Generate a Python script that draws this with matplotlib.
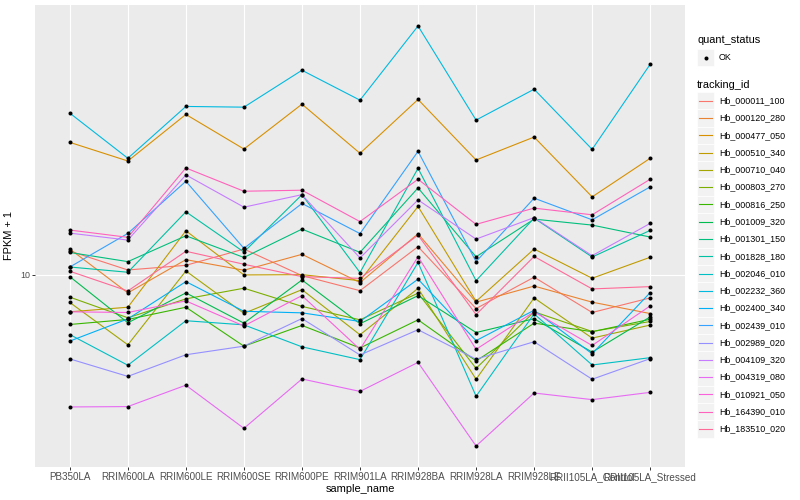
import matplotlib
matplotlib.use("Agg")
import matplotlib.pyplot as plt
import numpy as np
from matplotlib.patches import Rectangle
from matplotlib.ticker import NullLocator

plt.rcParams["font.family"] = ["Liberation Sans", "DejaVu Sans"]

samples = ["PB350LA", "RRIM600LA", "RRIM600LE", "RRIM600SE", "RRIM600PE", "RRIM901LA",
           "RRIM928BA", "RRIM928LA", "RRIM928LE", "RRII105LA_Control", "RRII105LA_Stressed"]

tracking_ids = ["Hb_000011_100", "Hb_000120_280", "Hb_000477_050", "Hb_000510_340",
                "Hb_000710_040", "Hb_000803_270", "Hb_000816_250", "Hb_001009_320",
                "Hb_001301_150", "Hb_001828_180", "Hb_002046_010", "Hb_002232_360",
                "Hb_002400_340", "Hb_002439_010", "Hb_002989_020", "Hb_004109_320",
                "Hb_004319_080", "Hb_010921_050", "Hb_164390_010", "Hb_183510_020"]

# FPKM + 1, one value per sample
hb_000011_100 = [12.02, 10.39, 10.77, 12.21, 9.95, 8.86, 12.43, 7.72, 9.83, 7.49, 8.38]
hb_000120_280 = [12.21, 8.71, 11.25, 10.37, 11.72, 9.43, 13.73, 8.11, 9.18, 8.11, 7.43]
hb_000477_050 = [27.75, 24.04, 34.41, 26.36, 37.24, 25.51, 38.61, 24.23, 28.91, 18.24, 24.55]
hb_000510_340 = [7.53, 7.80, 14.05, 10.0, 10.02, 9.57, 16.94, 8.16, 12.21, 9.75, 11.46]
hb_000710_040 = [8.09, 5.84, 10.31, 7.44, 8.93, 6.31, 9.02, 4.48, 8.38, 6.15, 6.80]
hb_000803_270 = [8.43, 7.19, 8.32, 9.03, 7.85, 7.08, 8.69, 4.87, 7.53, 6.47, 6.99]
hb_000816_250 = [6.83, 7.10, 7.80, 5.78, 6.78, 5.70, 7.08, 5.16, 6.90, 6.46, 7.11]
hb_001009_320 = [9.87, 6.92, 8.71, 6.90, 9.62, 6.87, 8.53, 6.42, 7.14, 5.52, 7.24]
hb_001301_150 = [11.89, 11.08, 13.52, 11.44, 14.23, 11.90, 19.54, 11.50, 15.37, 14.68, 13.39]
hb_001828_180 = [10.63, 10.21, 16.26, 11.93, 18.55, 10.19, 22.73, 9.57, 15.49, 11.48, 14.09]
hb_002046_010 = [6.32, 4.99, 7.03, 6.81, 5.75, 5.21, 11.01, 3.93, 7.41, 5.00, 5.29]
hb_002232_360 = [34.75, 24.55, 36.59, 36.39, 48.34, 38.40, 67.97, 32.94, 41.78, 26.30, 50.62]
hb_002400_340 = [6.01, 7.13, 9.50, 7.56, 7.47, 6.99, 9.68, 6.03, 7.62, 5.45, 8.73]
hb_002439_010 = [10.63, 13.77, 20.57, 12.27, 17.34, 13.75, 25.90, 11.08, 18.06, 15.29, 19.70]
hb_002989_020 = [5.24, 4.58, 5.41, 5.78, 7.15, 5.40, 6.56, 5.23, 5.98, 4.48, 5.25]
hb_004109_320 = [13.80, 13.08, 21.60, 16.85, 18.55, 11.40, 17.82, 13.18, 15.55, 11.60, 14.87]
hb_004319_080 = [3.62, 3.63, 4.28, 3.07, 4.49, 4.08, 5.10, 2.68, 4.03, 3.83, 4.05]
hb_010921_050 = [7.53, 7.49, 8.19, 6.75, 8.53, 5.64, 11.51, 5.64, 7.53, 5.81, 7.88]
hb_164390_010 = [14.13, 13.36, 22.79, 19.05, 19.20, 15.08, 20.89, 14.76, 16.73, 15.89, 20.89]
hb_183510_020 = [10.29, 8.84, 12.00, 10.86, 9.87, 9.74, 13.59, 7.37, 11.53, 8.98, 9.14]

series = [hb_000011_100, hb_000120_280, hb_000477_050, hb_000510_340, hb_000710_040,
          hb_000803_270, hb_000816_250, hb_001009_320, hb_001301_150, hb_001828_180,
          hb_002046_010, hb_002232_360, hb_002400_340, hb_002439_010, hb_002989_020,
          hb_004109_320, hb_004319_080, hb_010921_050, hb_164390_010, hb_183510_020]


def hue_pal(n, l=65.0, c=100.0):
    # ggplot2 default discrete palette (HCL -> sRGB)
    un, vn = 0.1978398, 0.4683363
    cols = []
    for h in np.linspace(15, 375, n + 1)[:-1]:
        hr = np.deg2rad(h)
        u, v = c * np.cos(hr), c * np.sin(hr)
        y = ((l + 16) / 116) ** 3
        up = u / (13 * l) + un
        vp = v / (13 * l) + vn
        x = y * 9 * up / (4 * vp)
        z = y * (12 - 3 * up - 20 * vp) / (4 * vp)
        rgb = np.array([
            3.240479 * x - 1.537150 * y - 0.498535 * z,
            -0.969256 * x + 1.875992 * y + 0.041556 * z,
            0.055648 * x - 0.204043 * y + 1.057311 * z,
        ])
        rgb = np.where(rgb <= 0.0031308, 12.92 * rgb, 1.055 * np.abs(rgb) ** (1 / 2.4) - 0.055)
        cols.append(tuple(np.clip(rgb, 0, 1)))
    return cols


colors = hue_pal(len(tracking_ids))
W, H = 800, 500
fig = plt.figure(figsize=(W / 100, H / 100), dpi=100)
ax = fig.add_axes([35 / W, 1 - 467 / H, 650 / W, 462 / H])
ax.set_facecolor("#EBEBEB")
for s in ax.spines.values():
    s.set_visible(False)

x = np.arange(len(samples))
for vals, col in zip(series, colors):
    ax.plot(x, vals, color=col, lw=0.8, zorder=2)
for vals in series:
    ax.plot(x, vals, "o", color="black", ms=2.9, mew=0, zorder=3)

ax.set_yscale("log")
allv = np.log10(np.concatenate([np.asarray(v) for v in series]))
span = allv.max() - allv.min()
ax.set_ylim(10 ** (allv.min() - 0.05 * span), 10 ** (allv.max() + 0.05 * span))
ax.set_xlim(-0.6, len(samples) - 0.4)
ax.set_yticks([10])
ax.set_yticklabels(["10"])
ax.yaxis.set_minor_locator(NullLocator())
ax.set_xticks(x)
ax.set_xticklabels(samples)
ax.grid(True, color="white", lw=0.8)
ax.set_axisbelow(True)
ax.tick_params(length=2.0, width=0.7, color="#333333", labelsize=6.4,
               labelcolor="#4D4D4D", pad=1.6)
ax.tick_params(axis="x", labelsize=7.1)
ax.set_xlabel("sample_name", fontsize=7.9, labelpad=1.5)
ax.set_ylabel("FPKM + 1", fontsize=7.9, labelpad=4)

# legend drawn in pixel coordinates
lg = fig.add_axes([0, 0, 1, 1], facecolor="none")
lg.set_xlim(0, W)
lg.set_ylim(H, 0)
lg.axis("off")
lg.text(697, 40, "quant_status", fontsize=7.9, va="center", ha="left")
lg.add_patch(Rectangle((697, 49), 17, 17, facecolor="#F2F2F2", edgecolor="white", lw=0.5))
lg.plot([705.5], [57.5], "o", color="black", ms=2.9, mew=0)
lg.text(719, 57.5, "OK", fontsize=6.4, va="center", ha="left")
lg.text(697, 85, "tracking_id", fontsize=7.9, va="center", ha="left")
for i, (name, col) in enumerate(zip(tracking_ids, colors)):
    yc = 100.7 + 17.28 * i
    lg.add_patch(Rectangle((697, yc - 8.6), 17, 17.2, facecolor="#F2F2F2", edgecolor="white", lw=0.5))
    lg.plot([699, 712], [yc, yc], color=col, lw=0.8)
    lg.text(719, yc, name, fontsize=6.4, va="center", ha="left")

fig.savefig("out.png", dpi=100)
